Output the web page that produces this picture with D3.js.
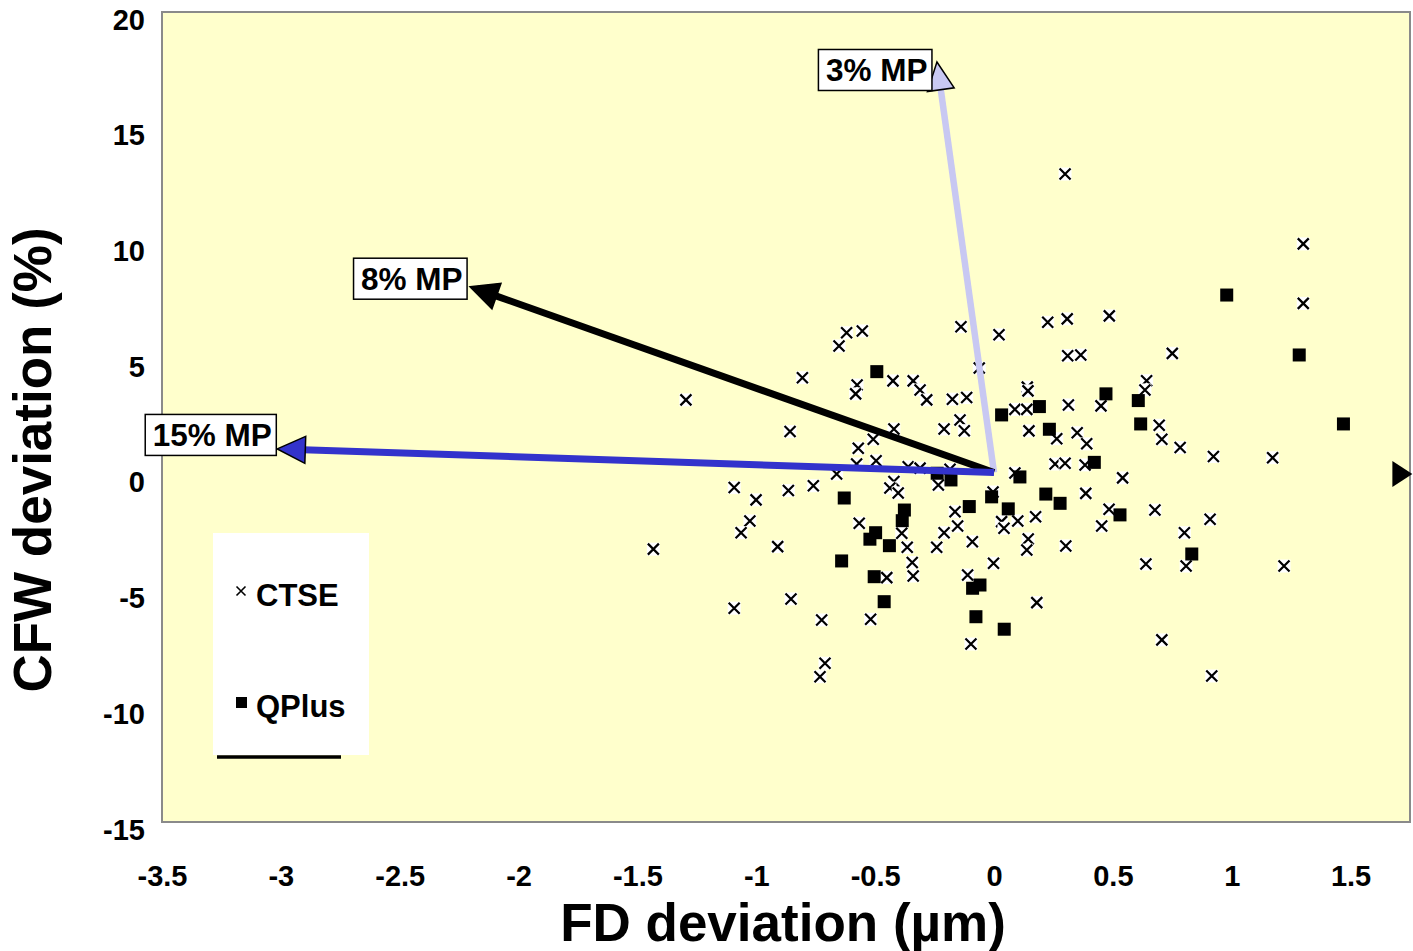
<!DOCTYPE html>
<html><head><meta charset="utf-8">
<script src="https://cdn.jsdelivr.net/npm/d3@7"></script>
<style>
body{margin:0;background:#fff;}
text{font-family:"Liberation Sans",Arial,sans-serif;font-weight:bold;fill:#000;}
</style>
</head><body>
<svg id="chart" width="1413" height="951"></svg>
<script>
// ---- data ----
const xTicks = [-3.5,-3,-2.5,-2,-1.5,-1,-0.5,0,0.5,1,1.5];
const yTicks = [-15,-10,-5,0,5,10,15,20];
const xTitle = "FD deviation (µm)";
const yTitle = "CFW deviation (%)";
const seriesNames = ["CTSE","QPlus"];

const ctseX = [0.299,1.301,1.301,0.485,0.226,0.308,-0.139,0.021,-0.620,-0.554,-0.652,0.750,0.310,0.365,-0.062,-0.806,-0.576,-0.582,-0.425,-0.340,
  -0.311,-0.283,-0.175,-0.115,0.140,0.143,0.642,0.635,-1.296,0.088,0.138,0.313,0.450,0.695,0.706,-0.858,-0.421,-0.210,-0.143,-0.125,
  0.147,0.350,0.264,0.390,-0.508,-0.571,0.783,0.923,1.172,0.257,0.299,0.383,-0.496,-0.578,-0.662,-0.361,-0.311,-0.185,0.088,0.541,
  -0.234,-0.421,-0.438,-0.403,-0.004,-1.093,-1.001,-0.865,-0.760,0.386,0.484,0.677,0.909,-0.164,-0.567,-0.388,-0.210,-0.153,-0.241,-0.091,
  -0.365,0.032,0.042,0.100,0.175,0.453,0.144,0.138,0.302,0.801,-1.027,-1.064,-1.433,-0.910,-0.002,-0.344,-0.340,-0.451,-0.111,0.639,
  0.808,1.220,-1.093,-0.854,-0.725,-0.519,0.180,-0.097,0.706,-0.711,-0.732,0.916];
const ctseY = [13.00,9.98,7.41,6.87,6.59,6.74,6.40,6.05,6.14,6.22,5.57,5.25,5.15,5.18,4.62,4.20,3.88,3.50,4.06,4.06,
  3.67,3.24,3.27,3.34,3.79,3.63,4.07,3.67,3.24,2.83,2.83,3.02,2.98,2.14,1.54,1.87,1.98,1.98,2.37,1.91,
  1.90,1.82,1.56,1.34,1.54,1.15,1.18,0.79,0.74,0.47,0.50,0.43,0.61,0.47,0.04,0.35,0.29,0.24,0.08,-0.13,
  -0.44,-0.29,-0.57,-0.78,-0.74,-0.55,-1.08,-0.68,-0.47,-0.80,-1.49,-1.52,-1.92,-1.59,-2.09,-2.52,-2.50,-2.21,-3.13,-2.89,
  -3.13,-2.02,-2.31,-1.99,-1.81,-2.21,-2.77,-3.25,-3.07,-2.50,-1.99,-2.50,-3.21,-3.10,-3.82,-3.79,-4.37,-4.44,-4.33,-3.85,
  -3.94,-3.94,-5.76,-5.36,-6.27,-6.24,-5.52,-7.31,-7.13,-8.14,-8.72,-8.69];

const qplusX = [-0.493,0.032,-0.239,-0.181,-0.630,-0.010,-0.377,-0.386,-0.104,-0.498,-0.522,-0.440,-0.641,-0.504,-0.059,-0.090,-0.462,-0.076,0.043,
  0.471,0.607,0.191,0.617,0.233,0.422,0.109,0.218,0.278,0.060,0.530,0.979,1.284,1.470,0.832];
const qplusY = [4.46,2.59,0.07,-0.22,-1.00,-0.95,-1.52,-1.98,-1.37,-2.50,-2.78,-3.06,-3.72,-4.40,-4.76,-4.90,-5.48,-6.13,-6.67,
  3.50,3.21,2.95,2.20,1.97,0.54,-0.09,-0.83,-1.23,-1.47,-1.73,7.77,5.18,2.20,-3.42];

const arrowNames = ["3% MP","8% MP","15% MP"];
const arrowTipX = [-0.24,-2.204,-3.015];
const arrowTipY = [17.84,8.13,1.12];
const arrowOrigin = [0,0.1];
const axisArrowTip = [1.76,0.04];

// ---- styles ----
const arrowStroke = ["#c8c8f2","#000000","#3333cc"];
const arrowFill = ["#c8c8f2","#000000","#3333cc"];
const labelDY = [8,-8,-14];   // vertical offset of label box center from tip (px)
const labelGap = [5,3,1];

const svg = d3.select("#chart");
const L = 162, R = 1410, T = 12, B = 822;
const x = d3.scaleLinear().domain([-3.5,1.75]).range([L,R]);
const y = d3.scaleLinear().domain([-15,20]).range([B,T]);

// plot area
svg.append("rect").attr("x",L).attr("y",T).attr("width",R-L).attr("height",B-T)
  .attr("fill","#ffffcc").attr("stroke","#8a8a8a").attr("stroke-width",2);

// axes
const fmt = d => String(d);
const gy = svg.append("g").attr("transform",`translate(${L},0)`)
  .call(d3.axisLeft(y).tickValues(yTicks).tickSize(0).tickPadding(17).tickFormat(fmt));
gy.select(".domain").remove();
gy.selectAll("text").attr("dy",17).style("font-size","29px").style("font-family",'"Liberation Sans",Arial,sans-serif').style("font-weight","bold");

const gx = svg.append("g").attr("transform",`translate(0,${B})`)
  .call(d3.axisBottom(x).tickValues(xTicks).tickSize(0).tickFormat(fmt));
gx.select(".domain").remove();
gx.selectAll("text").attr("y",0).attr("dy",64).style("font-size","29px").style("font-family",'"Liberation Sans",Arial,sans-serif').style("font-weight","bold");

// titles
svg.append("text").attr("x",783).attr("y",941).attr("text-anchor","middle")
  .style("font-size","53px").text(xTitle);
svg.append("text").attr("transform","translate(51,460) rotate(-90)").attr("text-anchor","middle")
  .style("font-size","53px").text(yTitle);

// markers
const gc = svg.append("g");
ctseX.forEach((v,i) => {
  const cx = x(v), cy = y(ctseY[i]);
  const g = gc.append("g").attr("transform",`translate(${cx},${cy})`);
  g.append("rect").attr("x",-6.5).attr("y",-6.5).attr("width",13).attr("height",13).attr("fill","#fff");
  g.append("path").attr("d","M-5.5,-5.5L5.5,5.5M-5.5,5.5L5.5,-5.5").attr("stroke","#000").attr("stroke-width",2.2);
});
const gq = svg.append("g");
qplusX.forEach((v,i) => {
  gq.append("rect").attr("x",x(v)-6.5).attr("y",y(qplusY[i])-6.5).attr("width",13).attr("height",13).attr("fill","#000");
});

// arrows (drawn over the markers)
const ox = x(arrowOrigin[0]), oy = y(arrowOrigin[1]);
const headLen = 28, headHalf = 13.5;
arrowNames.forEach((name,i) => {
  const tx = x(arrowTipX[i]), ty = y(arrowTipY[i]);
  const dx = tx-ox, dy = ty-oy, len = Math.hypot(dx,dy);
  const ux = dx/len, uy = dy/len;
  const bx = tx-ux*headLen, by = ty-uy*headLen;
  svg.append("line").attr("x1",ox).attr("y1",oy).attr("x2",bx+ux*2).attr("y2",by+uy*2)
    .attr("stroke",arrowStroke[i]).attr("stroke-width",i===0?6.5:7);
  const p = [[tx,ty],[bx-uy*headHalf,by+ux*headHalf],[bx+uy*headHalf,by-ux*headHalf]];
  svg.append("path").attr("d","M"+p.map(q=>q.join(",")).join("L")+"Z")
    .attr("fill",arrowFill[i]).attr("stroke","#000").attr("stroke-width",1.5).attr("stroke-linejoin","miter");
});

// axis arrowhead on the right
{
  const tx = x(axisArrowTip[0]), ty = y(axisArrowTip[1]);
  svg.append("path").attr("d",`M${tx},${ty}L${tx-20},${ty-13}L${tx-20},${ty+13}Z`).attr("fill","#000");
}

// arrow labels
arrowNames.forEach((name,i) => {
  const tx = x(arrowTipX[i]), ty = y(arrowTipY[i]);
  const g = svg.append("g");
  const t = g.append("text").style("font-size","31.5px").text(name);
  const w = t.node().getComputedTextLength();
  const bw = w + 12, bh = 41;
  const right = tx - labelGap[i];
  const cy = ty + labelDY[i];
  g.insert("rect","text").attr("x",right-bw).attr("y",cy-bh/2).attr("width",bw).attr("height",bh)
    .attr("fill","#fff").attr("stroke","#000").attr("stroke-width",1.5);
  t.attr("x",right-bw+7.5).attr("y",cy+11);
});

// legend
const lg = svg.append("g");
lg.append("rect").attr("x",213).attr("y",533).attr("width",156).attr("height",222).attr("fill","#fff");
lg.append("line").attr("x1",217).attr("x2",341).attr("y1",757).attr("y2",757).attr("stroke","#000").attr("stroke-width",3.5);
lg.append("path").attr("d","M236.5,586.5L245.5,595.5M236.5,595.5L245.5,586.5").attr("stroke","#000").attr("stroke-width",1.6);
lg.append("text").attr("x",256).attr("y",606).style("font-size","31px").text(seriesNames[0]);
lg.append("rect").attr("x",236).attr("y",697).attr("width",11).attr("height",11).attr("fill","#000");
lg.append("text").attr("x",256).attr("y",717).style("font-size","31px").text(seriesNames[1]);
</script>
</body></html>
